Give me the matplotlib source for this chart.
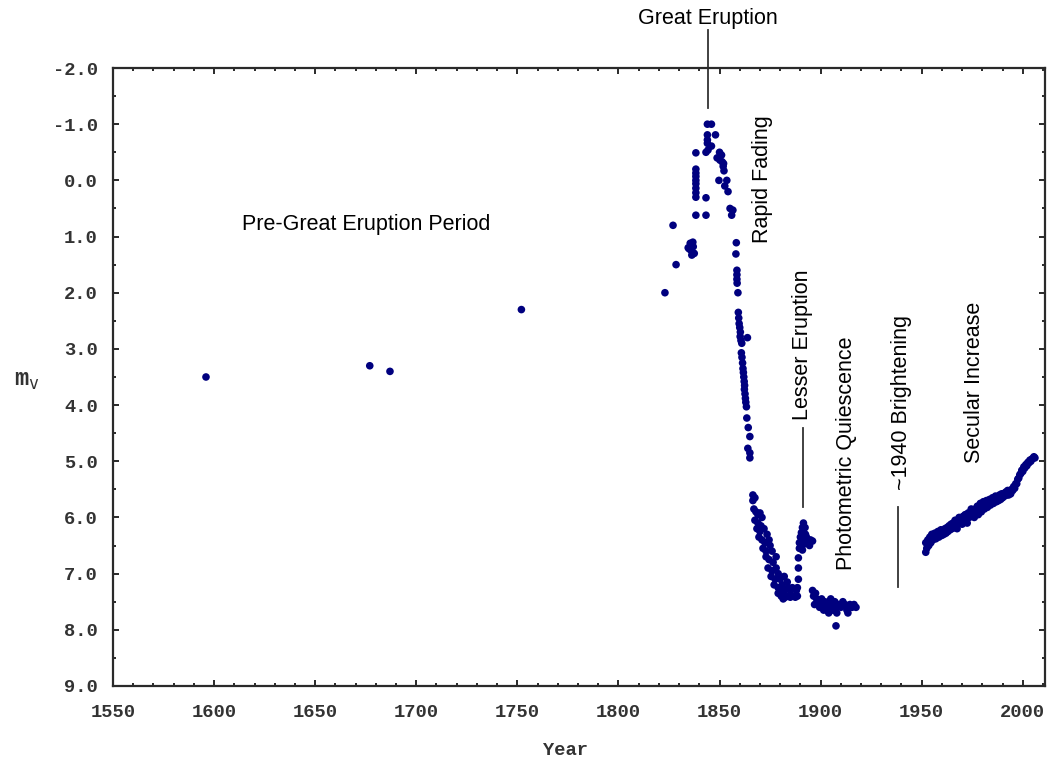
import matplotlib
matplotlib.use('Agg')
import matplotlib.pyplot as plt
from matplotlib.ticker import MultipleLocator, FormatStrFormatter

# Eta Carinae visual magnitude history
# historical / pre-eruption estimates
pre_years = [1596, 1677, 1687, 1752, 1823, 1827, 1828.5]
pre_mags = [3.5, 3.3, 3.4, 2.3, 2.0, 0.8, 1.5]

# Great Eruption 1834-1858
great_years = [1834.5, 1835, 1835.5, 1836, 1836.3, 1836.8, 1837, 1837.5,
               1838.3, 1838.3, 1838.3, 1838.3, 1838.3, 1838.3, 1838.3, 1838.3, 1838.3, 1838.3,
               1843.3, 1843.3, 1843.3,
               1844, 1844, 1844, 1844, 1844.3,
               1846, 1846, 1848, 1848.8,
               1850, 1850.2, 1849.7, 1851, 1851.3,
               1851.8, 1852.2, 1852.6, 1852, 1853.6, 1854.2, 1855.2, 1856, 1856.6,
               1858.3, 1858.1]
great_mags = [1.2, 1.22, 1.12, 1.25, 1.33, 1.1, 1.18, 1.3,
              -0.49, -0.2, -0.13, -0.07, 0.0, 0.06, 0.14, 0.22, 0.3, 0.62,
              0.31, 0.62, -0.5,
              -1.0, -0.81, -0.72, -0.66, -0.54,
              -1.0, -0.61, -0.81, -0.4,
              -0.5, -0.36, 0.0, -0.45, -0.33,
              -0.25, -0.17, 0.1, -0.3, 0.0, 0.2, 0.5, 0.62, 0.53,
              1.11, 1.31]

# Rapid fading 1858-1866
fade_years = [1858.6, 1858.6, 1858.6, 1858.7, 1859.1, 1859.3, 1859.5, 1859.7, 1860,
              1860.3, 1860.2, 1860.6, 1861, 1863.8, 1860.8, 1861.1, 1861.4, 1861.6,
              1861.8, 1862, 1862.2, 1862.4, 1862.3, 1862.6, 1862.8, 1863, 1863.3,
              1863.5, 1864.2, 1865, 1864, 1865, 1865]
fade_mags = [1.6, 1.68, 1.76, 1.83, 2.0, 2.35, 2.45, 2.55, 2.62,
             2.7, 2.78, 2.85, 2.9, 2.8, 3.07, 3.15, 3.25, 3.35,
             3.42, 3.5, 3.58, 3.65, 3.72, 3.8, 3.88, 3.95, 4.03,
             4.23, 4.4, 4.56, 4.77, 4.85, 4.94]

# decline to minimum 1866-1889
decl_years = [1866.5, 1866.5, 1867.5, 1867, 1868, 1869, 1870, 1871, 1867.5, 1869,
              1870.5, 1868.5, 1870, 1872, 1873.5, 1869.5, 1871, 1872.5, 1874.5, 1871.5,
              1873, 1875, 1876, 1873, 1874.5, 1876.5, 1878, 1874, 1876, 1878,
              1879, 1875.5, 1877.5, 1880, 1882, 1877, 1879, 1881, 1883.5, 1879,
              1880.5, 1882, 1883.5, 1885, 1886.5, 1888, 1884, 1886, 1888.5, 1881.5,
              1880, 1882.5, 1885, 1887.5, 1888.5]
decl_mags = [5.6, 5.7, 5.65, 5.85, 5.9, 5.95, 5.92, 6.0, 6.05, 6.1,
             6.15, 6.2, 6.25, 6.2, 6.3, 6.35, 6.4, 6.45, 6.4, 6.55,
             6.6, 6.5, 6.6, 6.7, 6.75, 6.8, 6.7, 6.9, 6.95, 6.9,
             7.0, 7.05, 7.1, 7.1, 7.05, 7.2, 7.25, 7.2, 7.15, 7.35,
             7.4, 7.3, 7.4, 7.3, 7.4, 7.3, 7.25, 7.25, 7.4, 7.45,
             7.33, 7.42, 7.42, 7.42, 7.25]

# Lesser Eruption 1889-1896
lesser_years = [1891.5, 1891, 1892.3, 1890.5, 1891.5, 1892.5, 1890, 1891, 1892, 1893,
                1889.5, 1890.5, 1891.5, 1893.5, 1895, 1896, 1889.5, 1891, 1894.5,
                1889, 1889, 1889]
lesser_mags = [6.1, 6.18, 6.18, 6.27, 6.27, 6.3, 6.35, 6.4, 6.38, 6.35,
               6.45, 6.5, 6.48, 6.45, 6.4, 6.42, 6.55, 6.58, 6.5,
               6.72, 6.9, 7.1]

# photometric quiescence 1896-1918
quiet_years = [1896, 1896.5, 1897.5, 1898, 1899, 1897, 1899.5, 1900.5, 1901, 1902,
               1901.5, 1903, 1904, 1905, 1905.5, 1906, 1907, 1907.5, 1908, 1909,
               1910, 1911, 1912, 1913, 1913.5, 1914.5, 1915.5, 1916.5, 1917.5, 1907.6,
               1904]
quiet_mags = [7.3, 7.4, 7.35, 7.45, 7.5, 7.55, 7.6, 7.45, 7.55, 7.5,
              7.65, 7.6, 7.5, 7.45, 7.55, 7.65, 7.5, 7.6, 7.7, 7.55,
              7.6, 7.5, 7.55, 7.65, 7.7, 7.55, 7.6, 7.55, 7.6, 7.93,
              7.7]

# secular increase 1952-2006
sec_years = [1952, 1952, 1952.5, 1953, 1953.5, 1954, 1954.5, 1955, 1955.5, 1956,
             1956.5, 1957, 1957.5, 1958, 1958.5, 1959, 1959.5, 1960, 1960.5, 1961,
             1961.5, 1962, 1962.5, 1963, 1963.5, 1964, 1964.5, 1965, 1965.5, 1966,
             1966.5, 1967, 1967.5, 1968, 1968.5, 1969, 1969.5, 1970, 1970.5, 1971,
             1971.5, 1972, 1972.5, 1973, 1973.5, 1974, 1974.5, 1975, 1975.5, 1976,
             1976.5, 1977, 1977.5, 1978, 1978.5, 1979, 1979.5, 1980, 1980.5, 1981,
             1981.5, 1982, 1982.5, 1983, 1983.5, 1984, 1984.5, 1985, 1985.5, 1986,
             1986.5, 1987, 1987.5, 1988, 1988.5, 1989, 1989.5, 1990, 1990.5, 1991,
             1991.5, 1992, 1992.5, 1993, 1993.5, 1994, 1994.5, 1995, 1995.5, 1996,
             1996.5, 1997, 1997.5, 1998, 1998.5, 1999, 1999.5, 2000, 2000.5, 2001,
             2001.5, 2002, 2002.5, 2003, 2003.5, 2004, 2004.5, 2005, 2005.5, 2006]
sec_mags = [6.62, 6.45, 6.55, 6.4, 6.5, 6.35, 6.45, 6.3, 6.4, 6.33,
            6.28, 6.38, 6.3, 6.25, 6.35, 6.28, 6.22, 6.32, 6.25, 6.3,
            6.2, 6.28, 6.18, 6.25, 6.15, 6.22, 6.12, 6.2, 6.1, 6.18,
            6.05, 6.12, 6.2, 6.08, 6.0, 6.1, 6.02, 6.12, 5.98, 6.05,
            5.95, 6.02, 6.1, 5.92, 6.0, 5.95, 5.85, 5.98, 5.9, 6.0,
            5.85, 5.92, 5.8, 5.95, 5.85, 5.75, 5.9, 5.8, 5.72, 5.85,
            5.78, 5.7, 5.82, 5.75, 5.68, 5.78, 5.72, 5.65, 5.75, 5.7,
            5.62, 5.72, 5.65, 5.7, 5.6, 5.68, 5.58, 5.65, 5.58, 5.62,
            5.55, 5.6, 5.52, 5.6, 5.55, 5.58, 5.5, 5.52, 5.45, 5.48,
            5.4, 5.4, 5.32, 5.3, 5.24, 5.22, 5.16, 5.18, 5.1, 5.12,
            5.06, 5.08, 5.02, 5.03, 4.98, 5.0, 4.96, 4.95, 4.92, 4.94]

all_years = pre_years + great_years + fade_years + decl_years + lesser_years + quiet_years + sec_years
all_mags = pre_mags + great_mags + fade_mags + decl_mags + lesser_mags + quiet_mags + sec_mags

mono = 'Liberation Mono'
sans = 'Liberation Sans'
axis_col = '#2a2a2a'

fig = plt.figure(figsize=(10.54, 7.65), dpi=100)
ax = fig.add_axes([0.1072, 0.1033, 0.8843, 0.8078])

ax.scatter(all_years, all_mags, s=30, color='#00007f', edgecolors='none', zorder=3)

ax.set_xlim(1550, 2011)
ax.set_ylim(9.0, -2.0)

ax.xaxis.set_major_locator(MultipleLocator(50))
ax.xaxis.set_minor_locator(MultipleLocator(10))
ax.yaxis.set_major_locator(MultipleLocator(1.0))
ax.yaxis.set_minor_locator(MultipleLocator(0.5))
ax.yaxis.set_major_formatter(FormatStrFormatter('%.1f'))

ax.tick_params(which='both', direction='in', top=True, right=True, color=axis_col, width=1.4)
ax.tick_params(which='major', length=4)
ax.tick_params(which='minor', length=2.4)
ax.tick_params(axis='y', which='major', pad=11)
ax.tick_params(axis='x', which='major', pad=13)
for lab in ax.get_xticklabels() + ax.get_yticklabels():
    lab.set_fontfamily(mono)
    lab.set_fontweight('bold')
    lab.set_fontsize(13.5)
    lab.set_color('#333333')
for sp in ax.spines.values():
    sp.set_linewidth(1.6)
    sp.set_color(axis_col)

ax.set_xlabel('Year', fontfamily=mono, fontweight='bold', fontsize=13.5, color='#333333')
ax.xaxis.set_label_coords(0.485, -0.09)
ax.set_ylabel(r'm$_\mathtt{v}$', fontfamily=mono, fontweight='bold', fontsize=17,
              color='#333333', rotation=0, va='center')
ax.yaxis.set_label_coords(-0.092, 0.495)

# event labels
tkw = dict(fontfamily=sans, fontsize=15.5, color='black')
ax.text(1844.3, -2.89, 'Great Eruption', ha='center', va='center', clip_on=False, **tkw)
ax.plot([1844.3, 1844.3], [-2.68, -1.28], color='#333333', lw=1.3, clip_on=False)
ax.text(1675, 0.78, 'Pre-Great Eruption Period', ha='center', va='center', **tkw)
ax.text(1871.3, 1.11, 'Rapid Fading', rotation=90, ha='center', va='bottom', **tkw)
ax.text(1890.8, 4.26, 'Lesser Eruption', rotation=90, ha='center', va='bottom', **tkw)
ax.plot([1891.2, 1891.2], [4.41, 5.81], color='#333333', lw=1.3)
ax.text(1913, 6.93, 'Photometric Quiescence', rotation=90, ha='center', va='bottom', **tkw)
ax.text(1940.2, 5.51, '~1940 Brightening', rotation=90, ha='center', va='bottom', **tkw)
ax.plot([1938.2, 1938.2], [5.81, 7.23], color='#333333', lw=1.3)
ax.text(1976.3, 5.03, 'Secular Increase', rotation=90, ha='center', va='bottom', **tkw)

fig.savefig('out.png', dpi=100)
